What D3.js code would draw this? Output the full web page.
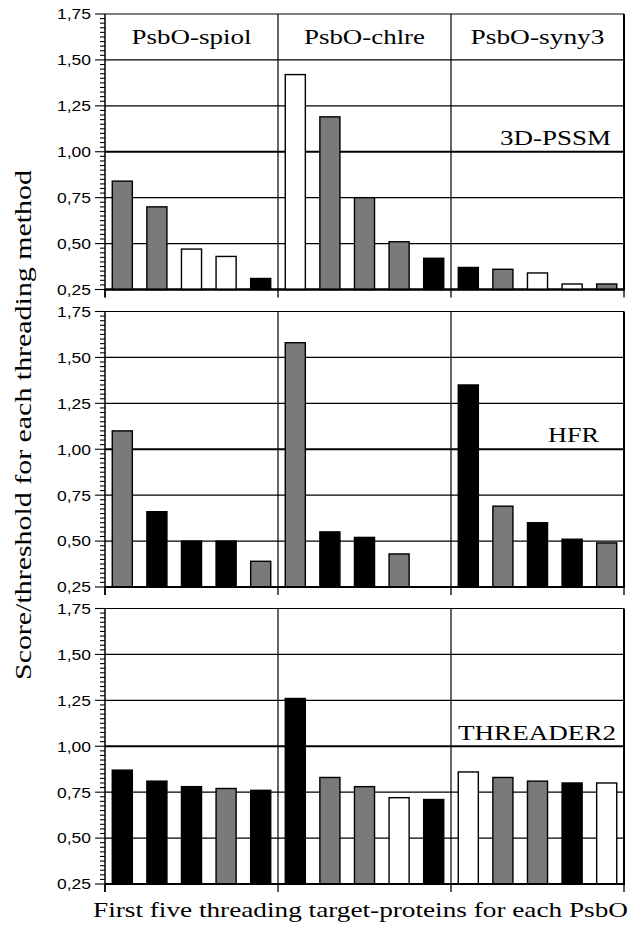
<!DOCTYPE html>
<html><head><meta charset="utf-8">
<script src="https://cdn.jsdelivr.net/npm/d3@7"></script>
<style>body{margin:0;background:#fff}svg{display:block}</style>
</head><body>
<script>
// ---- data ----
const groups = ["PsbO-spiol", "PsbO-chlre", "PsbO-syny3"];
const slots = [1, 2, 3, 4, 5];
const methods = ["3D-PSSM", "HFR", "THREADER2"];
const pssmValues = [0.84, 0.70, 0.47, 0.43, 0.31, 1.42, 1.19, 0.75, 0.51, 0.42, 0.37, 0.36, 0.34, 0.28, 0.28];
const pssmFills  = ["g","g","w","w","b", "w","g","g","g","b", "b","g","w","w","g"];
const hfrValues = [1.10, 0.66, 0.50, 0.50, 0.39, 1.58, 0.55, 0.52, 0.43, null, 1.35, 0.69, 0.60, 0.51, 0.49];
const hfrFills  = ["g","b","b","b","g", "g","b","b","g","w", "b","g","b","b","g"];
const threaderValues = [0.87, 0.81, 0.78, 0.77, 0.76, 1.26, 0.83, 0.78, 0.72, 0.71, 0.86, 0.83, 0.81, 0.80, 0.80];
const threaderFills  = ["b","b","b","g","b", "b","g","g","w","b", "w","g","g","b","w"];
const yTicks = [0.25, 0.50, 0.75, 1.00, 1.25, 1.50, 1.75];
const yTitle = "Score/threshold for each threading method";
const xTitle = "First five threading target-proteins for each PsbO";

const panelValues = [pssmValues, hfrValues, threaderValues];
const panelFills = [pssmFills, hfrFills, threaderFills];
const colorMap = {g: "#7a7a7a", w: "#ffffff", b: "#000000"};

// ---- layout ----
const W = 629, H = 939;
const left = 105, right = 624;
const panelTops = [14, 311.5, 608.5];
const panelH = 275.5;
const methodLabelPos = [{x: 611, dy: 131, len: 111}, {x: 599, dy: 130, len: 51}, {x: 616, dy: 131.5, len: 158}];
const serif = "'Liberation Serif','Times New Roman',serif";
const sans = "'Liberation Sans',Arial,sans-serif";

const svg = d3.select("body").append("svg").attr("width", W).attr("height", H);

const xGroup = d3.scaleBand().domain(groups).range([left, right]).padding(0);
const xSlot = d3.scaleBand().domain(slots).range([0, xGroup.bandwidth()]).paddingInner(0.42).paddingOuter(0.21);

panelValues.forEach((vals, pi) => {
  const top = panelTops[pi];
  const y = d3.scaleLinear().domain([0.25, 1.75]).range([top + panelH, top]);
  const g = svg.append("g");

  // horizontal grid
  g.selectAll("line.grid").data(yTicks).join("line")
    .attr("x1", left).attr("x2", right)
    .attr("y1", d => y(d)).attr("y2", d => y(d))
    .attr("stroke", "#000").attr("stroke-width", d => d === 1 ? 2.2 : (d === 0.25 ? 2 : 1.1));

  // vertical group dividers
  g.selectAll("line.div").data(groups.slice(1)).join("line")
    .attr("x1", d => xGroup(d)).attr("x2", d => xGroup(d))
    .attr("y1", y(1.75)).attr("y2", y(0.25))
    .attr("stroke", "#000").attr("stroke-width", 1.2);
  // right border
  g.append("line").attr("x1", right).attr("x2", right)
    .attr("y1", y(1.75)).attr("y2", y(0.25) + 1)
    .attr("stroke", "#000").attr("stroke-width", 2);

  // bars
  const data = vals.map((v, i) => ({v, grp: groups[Math.floor(i / 5)], slot: slots[i % 5], fill: panelFills[pi][i]}))
    .filter(d => d.v !== null);
  g.selectAll("rect.bar").data(data).join("rect")
    .attr("x", d => xGroup(d.grp) + xSlot(d.slot))
    .attr("width", xSlot.bandwidth())
    .attr("y", d => y(d.v))
    .attr("height", d => y(0.25) - y(d.v))
    .attr("fill", d => colorMap[d.fill])
    .attr("stroke", "#000").attr("stroke-width", 1.4);

  // baseline redraw
  g.append("line").attr("x1", left).attr("x2", right)
    .attr("y1", y(0.25)).attr("y2", y(0.25))
    .attr("stroke", "#000").attr("stroke-width", 2);

  // bottom axis ticks at group boundaries
  const bounds = groups.map(d => xGroup(d)).concat([right]);
  g.selectAll("line.xt").data(bounds).join("line")
    .attr("x1", d => d).attr("x2", d => d)
    .attr("y1", y(0.25)).attr("y2", y(0.25) + 8)
    .attr("stroke", "#000").attr("stroke-width", 1.3);

  // y axis with minor ticks
  g.append("line").attr("x1", left).attr("x2", left).attr("y1", y(1.75)).attr("y2", y(0.25) + 8)
    .attr("stroke", "#000").attr("stroke-width", 1.5);
  const minor = d3.range(0, 61).map(i => 0.25 + i * 0.025);
  g.selectAll("line.mt").data(minor).join("line")
    .attr("x1", (d, i) => i % 10 === 0 ? left - 10 : left - 5).attr("x2", left)
    .attr("y1", d => y(d)).attr("y2", d => y(d))
    .attr("stroke", "#000").attr("stroke-width", 1.1);
  g.selectAll("text.yl").data(yTicks).join("text")
    .attr("x", 91).attr("y", d => y(d)).attr("dy", "0.36em")
    .attr("text-anchor", "end")
    .attr("font-family", sans).attr("font-size", 15)
    .attr("textLength", 34).attr("lengthAdjust", "spacingAndGlyphs")
    .text(d => d3.format(".2f")(d).replace(".", ","));

  // method label
  const ml = methodLabelPos[pi];
  g.append("text").attr("x", ml.x - ml.len).attr("y", top + ml.dy)
    .attr("font-family", serif).attr("font-size", 22)
    .attr("textLength", ml.len).attr("lengthAdjust", "spacingAndGlyphs")
    .text(methods[pi]);

  // group headers in top panel
  if (pi === 0) {
    const hw = [120, 121, 134];
    g.selectAll("text.hdr").data(groups).join("text")
      .attr("x", (d, i) => xGroup(d) + xGroup.bandwidth() / 2 - hw[i] / 2)
      .attr("y", top + 30)
      .attr("font-family", serif).attr("font-size", 22)
      .attr("textLength", (d, i) => hw[i]).attr("lengthAdjust", "spacingAndGlyphs")
      .text(d => d);
  }
});

// axis titles
svg.append("text")
  .attr("transform", "translate(31,425) rotate(-90)")
  .attr("text-anchor", "middle")
  .attr("font-family", serif).attr("font-size", 23)
  .attr("textLength", 510).attr("lengthAdjust", "spacingAndGlyphs")
  .text(yTitle);
svg.append("text")
  .attr("x", 93).attr("y", 917)
  .attr("font-family", serif).attr("font-size", 22)
  .attr("textLength", 535).attr("lengthAdjust", "spacingAndGlyphs")
  .text(xTitle);
</script>
</body></html>
